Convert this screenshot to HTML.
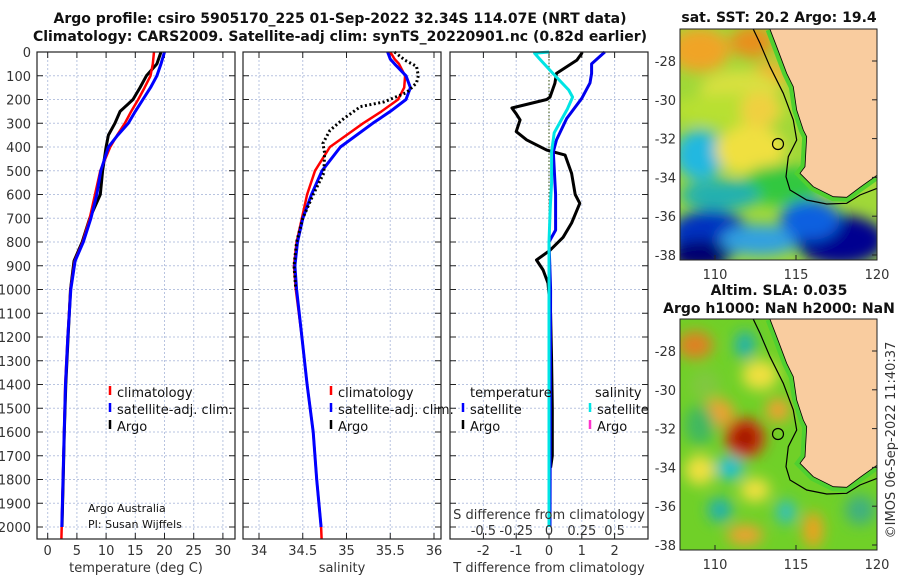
<!DOCTYPE html>
<html><head><meta charset="utf-8"><style>
body{margin:0;background:#fff}
svg{display:block;font-family:"DejaVu Sans","Liberation Sans",sans-serif}
.tk{font-size:13px;fill:#333}
.ttl{font-size:14px;font-weight:bold;fill:#111}
.lg{font-size:13px;fill:#111}
.grid{stroke:#b8c4e0;stroke-width:1;stroke-dasharray:2,2}
</style></head><body>
<svg id="c" width="900" height="580" viewBox="0 0 900 580">
<defs>
<filter id="bl" x="-50%" y="-50%" width="200%" height="200%"><feGaussianBlur stdDeviation="7"/></filter>
<clipPath id="m1c"><rect x="680" y="29" width="197" height="231"/></clipPath>
<clipPath id="m2c"><rect x="680" y="319" width="197" height="231"/></clipPath>
</defs>
<text class="ttl" x="340" y="23" text-anchor="middle">Argo profile: csiro 5905170_225 01-Sep-2022 32.34S 114.07E (NRT data)</text>
<text class="ttl" x="340" y="41" text-anchor="middle">Climatology: CARS2009. Satellite-adj clim: synTS_20220901.nc (0.82d earlier)</text>
<g id="plots"></g>
<g id="maps"></g>
</svg>
<script>
// ---- data ----
const depthT=[0,50,100,150,200,250,300,350,400,500,600,700,800,880,1000,1200,1400,1600,1800,2000,2050];
const climT=[18.2,18.0,17.6,16.6,15.5,14.3,13.2,11.9,10.7,9.0,8.1,7.2,6.0,4.6,3.9,3.4,3.0,2.8,2.6,2.4,2.35];
const satDepthT=[0,50,100,150,200,250,300,350,400,500,600,700,800,880,1000,1200,1400,1600,1800,2000];
const satT=[20.0,19.4,18.7,17.6,16.3,15.0,13.8,12.0,10.4,9.1,8.4,7.4,6.1,4.7,3.95,3.45,3.05,2.82,2.62,2.42];
const argoT=[19.4,18.7,16.9,15.8,14.6,12.4,11.5,10.4,10.0,9.4,9.0,7.2,5.9,4.5,3.9,3.5,3.1,2.85,2.65,2.45];
const depthS=[0,30,50,100,150,200,250,300,400,500,600,700,800,900,1000,1200,1400,1600,1800,2000,2050];
const climS=[35.50,35.55,35.6,35.67,35.66,35.59,35.4,35.19,34.81,34.64,34.55,34.49,34.43,34.40,34.42,34.49,34.55,34.62,34.66,34.71,34.715];
const satS=[35.47,35.5,35.55,35.68,35.73,35.68,35.5,35.3,34.93,34.72,34.6,34.5,34.44,34.41,34.43,34.49,34.55,34.62,34.66,34.71];
const argoDepthS=[0,35,60,100,130,170,210,230,280,330,385,425,510,600,700,800,900,1000];
const argoS=[35.55,35.67,35.8,35.82,35.8,35.69,35.43,35.16,34.97,34.81,34.73,34.75,34.74,34.62,34.5,34.43,34.40,34.42];
const argoDiffDepth=[0,5,34,90,132,190,200,236,260,286,335,370,413,434,511,600,637,720,780,835,876,918,973,1100,1300,1500,1700,1750];
const argoDiffT=[1.0,1.0,0.85,0.23,0.18,0.03,-0.07,-1.13,-1.0,-0.88,-1.0,-0.68,-0.07,0.49,0.69,0.8,0.94,0.69,0.43,0.03,-0.38,-0.18,-0.03,0.05,0.08,0.1,0.1,0.05];
const satDiffDepth=[0,50,90,130,195,280,370,420,600,750,800,1000,2000];
const satDiffT=[1.7,1.3,1.3,1.25,1.0,0.54,0.23,0.13,0.2,0.2,0.0,0.05,0.03];
const satDiffDepthS=[0,5,30,90,160,190,240,280,340,420,550,650,800,2000];
const satDiffS=[0,-0.11,-0.07,0.03,0.15,0.18,0.14,0.1,0.04,0.02,0.02,0.01,0,0];
const depthTicks=[0,100,200,300,400,500,600,700,800,900,1000,1100,1200,1300,1400,1500,1600,1700,1800,1900,2000];
const tempTicks=[0,5,10,15,20,25,30];
const salTicks=[34,34.5,35,35.5,36];
const diffTicks=[-2,-1,0,1,2];
const sdiffTicks=[-0.5,-0.25,0,0.25,0.5];
const latTicks=[-28,-30,-32,-34,-36,-38];
const lonTicks=[110,115,120];

// ---- scales ----
const yD=d=>52+d*0.2375;
const xT=t=>47.7+t*5.84;
const xS=s=>259+(s-34)*87.5;
const xDT=t=>549+t*32.8;
const xDS=s=>549+s*4*32.8;
const NS="http://www.w3.org/2000/svg";
const P=document.getElementById('plots');
function mk(tag,at,parent){const e=document.createElementNS(NS,tag);for(const k in at)e.setAttribute(k,at[k]);(parent||P).appendChild(e);return e;}
function line(xs,ds,fx,color,w,name,dash){
  const pts=xs.map((v,i)=>fx(v).toFixed(1)+','+yD(ds[i]).toFixed(1)).join(' ');
  const e=mk('polyline',{points:pts,fill:'none',stroke:color,'stroke-width':w,'stroke-linejoin':'round'});
  if(dash)e.setAttribute('stroke-dasharray',dash);
  
  
}
function txt(x,y,s,cls,anchor,name){const e=mk('text',{x:x,y:y,class:cls,'text-anchor':anchor||'start'});e.textContent=s;
  
  return e;}
const panels=[{l:37,r:235,ticks:tempTicks,fx:xT,label:'temperature (deg C)',n:'temperature'},
 {l:243,r:441,ticks:salTicks,fx:xS,label:'salinity',n:'salinity'},
 {l:450,r:648,ticks:diffTicks,fx:xDT,label:'T difference from climatology',n:'difference'}];
panels.forEach((p,pi)=>{
  depthTicks.forEach(d=>{const g=mk('line',{x1:p.l,x2:p.r,y1:yD(d),y2:yD(d),class:'grid'});
    
    
    mk('line',{x1:p.l,x2:p.l+6,y1:yD(d),y2:yD(d),stroke:'#222'});
    mk('line',{x1:p.r-6,x2:p.r,y1:yD(d),y2:yD(d),stroke:'#222'});
    if(pi===0)txt(31,yD(d)+5,String(d),'tk','end','depth-tick-label');});
  p.ticks.forEach(t=>{const x=p.fx(t);const g=mk('line',{x1:x,x2:x,y1:52,y2:539,class:'grid'});
    
    
    mk('line',{x1:x,x2:x,y1:539,y2:533,stroke:'#222'});mk('line',{x1:x,x2:x,y1:52,y2:58,stroke:'#222'});
    txt(x,555,String(t),'tk','middle',p.n+'-tick-label');});
  txt((p.l+p.r)/2,572,p.label,'tk','middle',p.n+'-axis-title');
});
const z=mk('line',{x1:xDT(0),x2:xDT(0),y1:52,y2:yD(880),stroke:'#556b2f','stroke-width':1.2,'stroke-dasharray':'1.5,2'});

line(argoT,depthT.slice(0,argoT.length),xT,'#000',3,'argo-temperature');
line(climT,depthT,xT,'#ff0000',2.5,'clim-temperature');
line(satT,satDepthT,xT,'#0000ff',3,'sat-temperature');
line(climS,depthS,xS,'#ff0000',2.5,'clim-salinity');
line(satS,depthS.slice(0,satS.length),xS,'#0000ff',3,'sat-salinity');
line(argoS,argoDepthS,xS,'#000',3,'argo-salinity','2,2.5');
line(argoDiffT,argoDiffDepth,xDT,'#000',3,'argo-t-diff');
line(satDiffT,satDiffDepth,xDT,'#0000ee',3,'sat-t-diff');
line(satDiffS,satDiffDepthS,xDS,'#00e5e5',3,'sat-s-diff');
panels.forEach(p=>{const f=mk('rect',{x:p.l,y:52,width:p.r-p.l,height:487,fill:'none',stroke:'#222','stroke-width':1.2});
  });
function leg(x,y,color,label,name){mk('line',{x1:x,x2:x,y1:y-11,y2:y-2,stroke:color,'stroke-width':2.5});txt(x+7,y,label,'lg','start',name);}
leg(110,397,'#ff0000','climatology','legend-climatology');
leg(110,414,'#0000ff','satellite-adj. clim.','legend-satellite-adj');
leg(110,431,'#000','Argo','legend-argo');
leg(331,397,'#ff0000','climatology','legend2-climatology');
leg(331,414,'#0000ff','satellite-adj. clim.','legend2-satellite-adj');
leg(331,431,'#000','Argo','legend2-argo');
txt(470,397,'temperature','lg','start','legend-temperature-head');
txt(595,397,'salinity','lg','start','legend-salinity-head');
leg(463,414,'#0000ff','satellite','legend-t-satellite');
leg(463,431,'#000','Argo','legend-t-argo');
leg(590,414,'#00e5e5','satellite','legend-s-satellite');
leg(590,431,'#ff33cc','Argo','legend-s-argo');
const a1=txt(88,512,'Argo Australia','lg','start','credit-argo-australia');a1.setAttribute('style','font-size:11px');
const a2=txt(88,528,'PI: Susan Wijffels','lg','start','credit-pi');a2.setAttribute('style','font-size:11px');
txt(549,519,'S difference from climatology','tk','middle','s-diff-axis-title');
sdiffTicks.forEach(s=>txt(xDS(s),535,String(s),'tk','middle','s-diff-tick-label'));

// ---- maps ----
const M=document.getElementById('maps');
const xLon=l=>715+(l-110)*16.2;
const yLat=(la,off)=>61+off+(-28-la)*19.4;
const coast=[[330,88],[350,140],[380,220],[400,260],[410,330],[430,390],[440,410],[435,500],[420,520],[460,560],[520,590],[560,592],[600,562],[652,525]];
const shelf=[[280,88],[300,130],[330,200],[370,280],[400,360],[410,420],[385,470],[378,530],[390,570],[440,600],[500,612],[560,610],[600,585],[652,565]];
function drawMap(off,clip,blobs,base,name){
  const g=mk('g',{'clip-path':'url(#'+clip+')'},M);
  
  mk('rect',{x:680,y:29+off,width:197,height:231,fill:base},g);
  const bg=mk('g',{filter:'url(#bl)'},g);
  blobs.forEach(b=>mk('ellipse',{cx:b[0],cy:b[1]+off,rx:b[2],ry:b[3],fill:b[4]},bg));
  const cp=coast.map(p=>(p[0]/3+660).toFixed(1)+','+(p[1]/3+off).toFixed(1));
  const band=mk('polyline',{points:cp.join(' '),fill:'none',stroke:'#50d030','stroke-width':9},g);
  mk('polygon',{points:cp.join(' ')+' 878,'+(175+off)+' 878,'+(28+off),fill:'#f9cc9f'},g);
  const sp=shelf.map(p=>(p[0]/3+660).toFixed(1)+','+(p[1]/3+off).toFixed(1)).join(' ');
  mk('polyline',{points:sp,fill:'none',stroke:'#000','stroke-width':1.2},g);
  mk('polyline',{points:cp.join(' '),fill:'none',stroke:'#000','stroke-width':0.8},g);
  mk('circle',{cx:778,cy:144+off,r:5.5,fill:'none',stroke:'#000','stroke-width':1.2},g);
  const f=mk('rect',{x:680,y:29+off,width:197,height:231,fill:'none',stroke:'#222','stroke-width':1},M);
  
  latTicks.forEach(la=>{const y=yLat(la,off);mk('line',{x1:877,x2:872,y1:y,y2:y,stroke:'#222'},M);
    const t=document.createElementNS(NS,'text');t.setAttribute('x',676);t.setAttribute('y',y+5);t.setAttribute('text-anchor','end');t.setAttribute('class','tk');t.textContent=String(la);
    
    M.appendChild(t);});
  lonTicks.forEach(lo=>{const x=xLon(lo);mk('line',{x1:x,x2:x,y1:260+off,y2:255+off,stroke:'#222'},M);
    const t=document.createElementNS(NS,'text');t.setAttribute('x',x);t.setAttribute('y',279+off);t.setAttribute('text-anchor','middle');t.setAttribute('class','tk');t.textContent=String(lo);
    
    M.appendChild(t);});
}
drawMap(0,'m1c',[
 [700,50,30,22,'#f0a428'],[752,42,22,16,'#e8901c'],[770,75,18,14,'#f0b030'],
 [740,90,40,20,'#d8e040'],[730,110,60,16,'#b8e030'],[700,155,25,25,'#20b8e0'],[750,150,35,25,'#f0e040'],
 [760,110,20,18,'#f0d040'],[780,185,40,20,'#30c840'],[720,195,40,15,'#20b0b0'],
 [710,235,40,25,'#0030c0'],[760,240,40,15,'#30a0e0'],[840,240,45,25,'#000090'],
 [700,255,30,15,'#000070'],[810,220,30,20,'#1060e0']
],'#a0d838','sst-map');
drawMap(290,'m2c',[
 [695,55,18,14,'#e08020'],[745,55,10,14,'#20b0b0'],[760,85,18,15,'#f0e040'],
 [718,123,16,14,'#f0a030'],[778,120,12,12,'#f0a030'],[745,148,20,20,'#d03010'],
 [745,148,10,10,'#900000'],[730,178,14,12,'#20c0d0'],[700,180,15,15,'#f0e040'],
 [755,200,15,12,'#f0e040'],[720,220,12,12,'#20b0b0'],[745,245,18,10,'#f0a030'],
 [786,222,10,12,'#30c0c0'],[813,240,10,18,'#f0a020'],[860,220,15,15,'#40b080'],
 [705,95,15,15,'#80c840'],[700,135,15,20,'#40b860']
],'#70d028','sla-map');
txt(779,22,'sat. SST: 20.2 Argo: 19.4','ttl','middle','sst-map-title');
txt(779,295,'Altim. SLA: 0.035','ttl','middle','sla-map-title');
txt(779,313,'Argo h1000: NaN h2000: NaN','ttl','middle','sla-map-subtitle');
const r=txt(0,0,'\u00A9IMOS 06-Sep-2022 11:40:37','tk','middle','timestamp');
r.setAttribute('transform','translate(895,440) rotate(-90)');
r.setAttribute('style','font-size:13px');
</script>
</body></html>
